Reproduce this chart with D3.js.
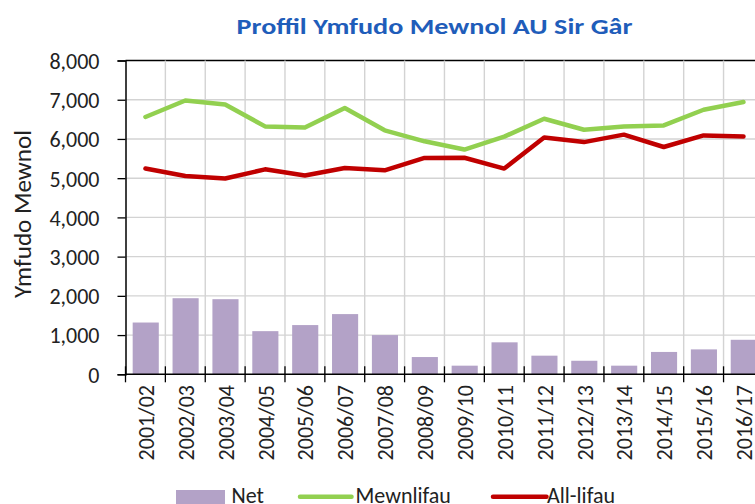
<!DOCTYPE html>
<html><head><meta charset="utf-8">
<script src="https://cdn.jsdelivr.net/npm/d3@7"></script>
<style>
html,body{margin:0;padding:0;background:#fff;overflow:hidden}
text{font-family:Carlito,Lato,"Open Sans",sans-serif}
</style></head>
<body><div id="chart"></div>
<script>
const years = ["2001/02","2002/03","2003/04","2004/05","2005/06","2006/07","2007/08","2008/09","2009/10","2010/11","2011/12","2012/13","2013/14","2014/15","2015/16","2016/17"];
const netValues = [1320,1940,1915,1100,1255,1535,1000,440,220,815,475,345,220,570,635,880];
const inflow = [6560,6980,6880,6320,6290,6790,6220,5940,5730,6060,6515,6235,6320,6345,6745,6940];
const outflow = [5245,5055,4990,5225,5070,5260,5200,5515,5520,5245,6035,5920,6110,5795,6090,6065];
const yTicks = [0,1000,2000,3000,4000,5000,6000,7000,8000];
const legendLabels = ["Net","Mewnlifau","All-lifau"];
const title = "Proffil Ymfudo Mewnol AU Sir Gâr";
const yTitle = "Ymfudo Mewnol";

const W = 755, H = 504;
const plotLeft = 125.5, bandW = 39.87;
const plotRight = plotLeft + bandW * years.length;
const plotTop = 60.5, plotBottom = 374.3;

const svg = d3.select("#chart").append("svg").attr("width", W).attr("height", H);

const x = d3.scaleBand().domain(years).range([plotLeft, plotRight]).padding(0);
const y = d3.scaleLinear().domain([0, 8000]).range([plotBottom, plotTop]);
const fmt = d3.format(",");

// horizontal gridlines
svg.append("g").selectAll("line").data(yTicks.slice(1)).join("line")
  .attr("x1", plotLeft).attr("x2", plotRight)
  .attr("y1", d => y(d)).attr("y2", d => y(d))
  .attr("stroke", d => d === 8000 ? "#000" : "#d3d3d3")
  .attr("stroke-width", d => d === 8000 ? 1.3 : 1.4);

// vertical gridlines at category boundaries
svg.append("g").selectAll("line").data(years.slice(1)).join("line")
  .attr("x1", d => x(d)).attr("x2", d => x(d))
  .attr("y1", plotTop).attr("y2", plotBottom)
  .attr("stroke", "#d3d3d3").attr("stroke-width", 1.4);

// bars
const barW = x.bandwidth() * 0.655;
svg.append("g").selectAll("rect").data(years).join("rect")
  .attr("x", d => x(d) + (x.bandwidth() - barW) / 2 + 0.3)
  .attr("width", barW)
  .attr("y", (d, i) => y(netValues[i]))
  .attr("height", (d, i) => y(0) - y(netValues[i]))
  .attr("fill", "#b3a2c7");

// lines
const line = d3.line().x((d, i) => x(years[i]) + x.bandwidth() / 2).y(d => y(d));
svg.append("path").datum(inflow).attr("d", line)
  .attr("fill", "none").attr("stroke", "#92d050").attr("stroke-width", 4.5)
  .attr("stroke-linejoin", "round").attr("stroke-linecap", "round");
svg.append("path").datum(outflow).attr("d", line)
  .attr("fill", "none").attr("stroke", "#c00000").attr("stroke-width", 4.5)
  .attr("stroke-linejoin", "round").attr("stroke-linecap", "round");

// y axis
const yAxis = d3.axisLeft(y).tickValues(yTicks).tickFormat(fmt).tickSize(8).tickPadding(18);
const ya = svg.append("g").attr("transform", `translate(${plotLeft},0)`).call(yAxis);
ya.select(".domain").attr("stroke", "#000").attr("stroke-width", 1.5);
ya.selectAll(".tick line").attr("stroke", "#000").attr("stroke-width", 1.3);
ya.selectAll(".tick text").attr("font-size", 22).attr("fill", "#222").attr("dy", "0.36em");

// x axis
const xTickPos = years.map(d => x(d)).concat([plotRight]);
const xg = svg.append("g");
xg.append("line").attr("x1", plotLeft).attr("x2", plotRight).attr("y1", plotBottom).attr("y2", plotBottom)
  .attr("stroke", "#000").attr("stroke-width", 1.5);
xg.selectAll("line.t").data(xTickPos).join("line").attr("class", "t")
  .attr("x1", d => d).attr("x2", d => d).attr("y1", plotBottom - 8).attr("y2", plotBottom + 8)
  .attr("stroke", "#000").attr("stroke-width", 1.3);
xg.selectAll("text").data(years).join("text")
  .attr("transform", d => `translate(${x(d) + x.bandwidth() / 2 + 8.5},385) rotate(-90)`)
  .attr("text-anchor", "end").attr("font-size", 22).attr("fill", "#222")
  .text(d => d);

// title
svg.append("text").attr("x", 434.5).attr("y", 34.3).attr("text-anchor", "middle")
  .attr("font-size", 23).attr("font-weight", "bold").attr("fill", "#1f5dba")
  .attr("textLength", 396).attr("lengthAdjust", "spacingAndGlyphs")
  .text(title);

// y title
svg.append("text").attr("transform", "translate(31,214) rotate(-90)")
  .attr("text-anchor", "middle").attr("font-size", 23.5).attr("fill", "#222")
  .attr("textLength", 168).attr("lengthAdjust", "spacingAndGlyphs")
  .text(yTitle);

// legend
const lg = svg.append("g");
lg.append("rect").attr("x", 176).attr("y", 490).attr("width", 49).attr("height", 16).attr("fill", "#b3a2c7");
lg.append("text").attr("x", 231.5).attr("y", 503).attr("font-size", 22).attr("fill", "#222").text(legendLabels[0]);
lg.append("line").attr("x1", 300).attr("x2", 351.5).attr("y1", 496.7).attr("y2", 496.7)
  .attr("stroke", "#92d050").attr("stroke-width", 4.5).attr("stroke-linecap", "round");
lg.append("text").attr("x", 355.5).attr("y", 503).attr("font-size", 22).attr("fill", "#222").text(legendLabels[1]);
lg.append("line").attr("x1", 493).attr("x2", 546.5).attr("y1", 496.7).attr("y2", 496.7)
  .attr("stroke", "#c00000").attr("stroke-width", 4.5).attr("stroke-linecap", "round");
lg.append("text").attr("x", 547).attr("y", 503).attr("font-size", 22).attr("fill", "#222").text(legendLabels[2]);
</script></body></html>
